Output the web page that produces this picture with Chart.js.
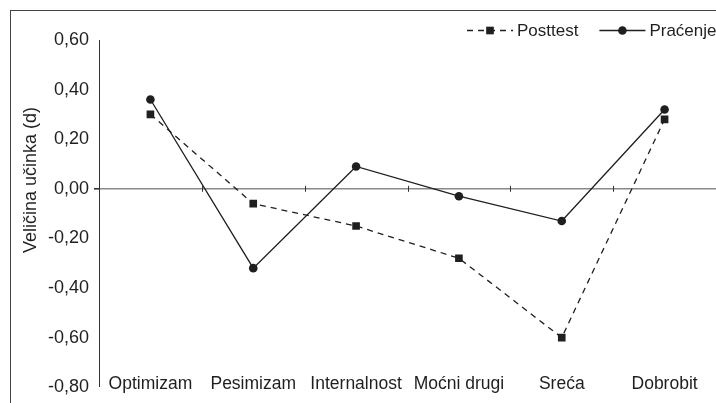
<!DOCTYPE html>
<html>
<head>
<meta charset="utf-8">
<script src="https://cdn.jsdelivr.net/npm/chart.js@4"></script>
<style>
    html, body { margin: 0; padding: 0; background: #fff; }
    #wrap { position: relative; width: 716px; height: 403px; overflow: hidden; }
    #frame { position: absolute; left: 10px; top: 10px; right: 0; bottom: 0;
             border-left: 1px solid #444; border-top: 1px solid #444; }
    canvas { position: absolute; left: 0; top: 0; }
</style>
</head>
<body>
<div id="wrap">
    <div id="frame"></div>
    <canvas id="effectChart" width="716" height="403"></canvas>
</div>
<script>
// Effect sizes (d) per outcome
const categories = ['Optimizam', 'Pesimizam', 'Internalnost', 'Moćni drugi', 'Sreća', 'Dobrobit'];
const posttestValues = [0.30, -0.06, -0.15, -0.28, -0.60, 0.28];
const pracenjeValues = [0.36, -0.32, 0.09, -0.03, -0.13, 0.32];
const seriesLabels = ['Posttest', 'Praćenje'];
const yTitle = 'Veličina učinka (d)';

const FONT = '"Liberation Sans", Arial, sans-serif';
const INK = '#1f1f1f';

function formatTick(v) {
    if (Math.abs(v) < 1e-9) v = 0;
    return v.toFixed(2).replace('.', ',');
}

// Small tick marks on the zero line between categories
const zeroTicks = {
    id: 'zeroTicks',
    afterDatasetsDraw(chart) {
        const x = chart.scales.x, y = chart.scales.y;
        const y0 = y.getPixelForValue(0);
        const ctx = chart.ctx;
        ctx.save();
        ctx.strokeStyle = '#333';
        ctx.lineWidth = 1;
        for (let i = 1; i < categories.length; i++) {
            const px = Math.round((x.getPixelForValue(i - 1) + x.getPixelForValue(i)) / 2) + 0.5;
            ctx.beginPath();
            ctx.moveTo(px, y0 - 3);
            ctx.lineTo(px, y0 + 3);
            ctx.stroke();
        }
        ctx.restore();
    }
};

// Rotated y axis title, placed as in the original figure
const sideTitle = {
    id: 'sideTitle',
    afterDraw(chart) {
        const ctx = chart.ctx;
        ctx.save();
        ctx.translate(31, 180);
        ctx.rotate(-Math.PI / 2);
        ctx.font = '18px ' + FONT;
        ctx.fillStyle = INK;
        ctx.textAlign = 'center';
        ctx.textBaseline = 'middle';
        ctx.fillText(yTitle, 0, 0);
        ctx.restore();
    }
};

// Legend with line + marker samples
const lineLegend = {
    id: 'lineLegend',
    afterDraw(chart) {
        const ctx = chart.ctx;
        const yMid = 30;
        let x = 467;
        ctx.save();
        ctx.font = '17px ' + FONT;
        ctx.textBaseline = 'middle';
        chart.data.datasets.forEach(ds => {
            const w = 46;
            ctx.strokeStyle = ds.borderColor;
            ctx.lineWidth = ds.borderWidth;
            ctx.setLineDash(ds.borderDash || []);
            ctx.beginPath();
            ctx.moveTo(x, yMid + 0.5);
            ctx.lineTo(x + w, yMid + 0.5);
            ctx.stroke();
            ctx.setLineDash([]);
            ctx.fillStyle = ds.pointBackgroundColor;
            Chart.helpers.drawPoint(ctx, {
                pointStyle: ds.pointStyle, radius: ds.pointRadius, rotation: 0, borderWidth: 0
            }, x + w / 2, yMid + 0.5);
            ctx.fillStyle = INK;
            ctx.fillText(ds.label, x + w + 4, yMid + 1);
            x += w + 4 + ctx.measureText(ds.label).width + 21;
        });
        ctx.restore();
    }
};

const ctx = document.getElementById('effectChart').getContext('2d');
new Chart(ctx, {
    type: 'line',
    data: {
        labels: categories,
        datasets: [{
            label: seriesLabels[0],
            data: posttestValues,
            borderColor: INK,
            borderWidth: 1.3,
            borderDash: [6, 5],
            pointStyle: 'rect',
            pointRadius: 5.4,
            pointBackgroundColor: INK,
            pointBorderWidth: 0,
            tension: 0,
            fill: false
        }, {
            label: seriesLabels[1],
            data: pracenjeValues,
            borderColor: INK,
            borderWidth: 1.3,
            pointStyle: 'circle',
            pointRadius: 4.3,
            pointBackgroundColor: INK,
            pointBorderWidth: 0,
            tension: 0,
            fill: false
        }]
    },
    options: {
        responsive: false,
        animation: false,
        devicePixelRatio: 1,
        layout: { autoPadding: false, padding: { top: 40, right: 0, bottom: 0, left: 0 } },
        plugins: {
            legend: { display: false },
            tooltip: { enabled: false }
        },
        scales: {
            x: {
                offset: true,
                grid: { display: false, drawTicks: false },
                border: { display: false },
                ticks: {
                    mirror: true,
                    padding: -7,
                    maxRotation: 0,
                    autoSkip: false,
                    color: INK,
                    font: { family: FONT, size: 17.5 }
                },
                afterFit(scale) { scale.height = 15; }
            },
            y: {
                min: -0.8,
                max: 0.6,
                border: { display: true, color: '#333', width: 1 },
                grid: {
                    drawOnChartArea: true,
                    color: c => (c.tick && Math.abs(c.tick.value) < 1e-9) ? '#888' : 'rgba(0,0,0,0)',
                    lineWidth: c => (c.tick && Math.abs(c.tick.value) < 1e-9) ? 1.6 : 0,
                    tickColor: '#333',
                    tickLength: 5
                },
                ticks: {
                    stepSize: 0.2,
                    padding: 5,
                    color: INK,
                    font: { family: FONT, size: 18 },
                    callback: v => formatTick(v)
                },
                afterFit(scale) { scale.width = 99; }
            }
        }
    },
    plugins: [zeroTicks, sideTitle, lineLegend]
});
</script>
</body>
</html>
